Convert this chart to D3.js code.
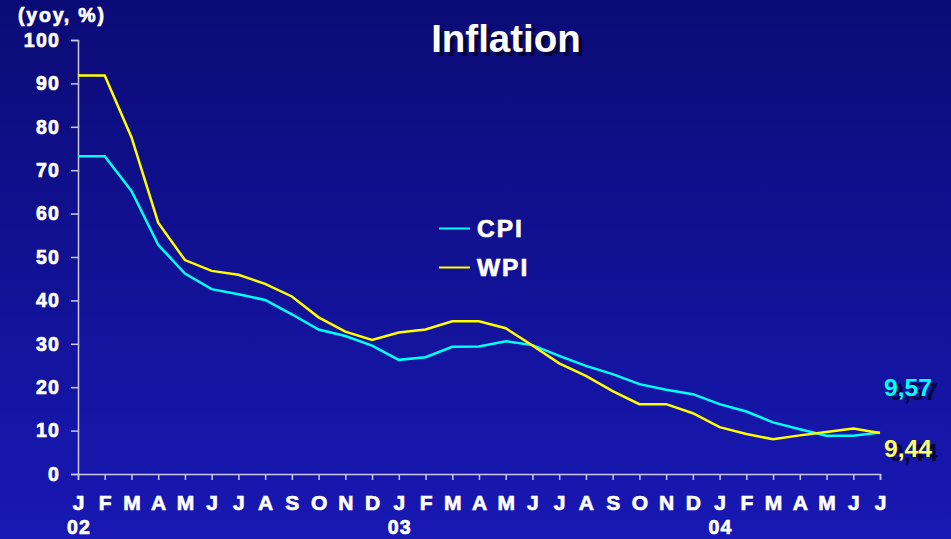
<!DOCTYPE html>
<html lang="en">
  <head>
    <meta charset="UTF-8" />
    <title>Inflation</title>
    <style>
      body { margin: 0; background: #10108c; }
      text { font-family: "Liberation Sans", Arial, sans-serif; font-weight: bold; }
      .heavy { stroke: white; stroke-width: 0.7px; }
    </style>
  </head>
  <body>
    <svg id="chart"></svg>
    <script src="https://cdnjs.cloudflare.com/ajax/libs/d3/7.4.4/d3.min.js"></script>
    <script>
      const months = ["J","F","M","A","M","J","J","A","S","O","N","D",
                      "J","F","M","A","M","J","J","A","S","O","N","D",
                      "J","F","M","A","M","J","J"];
      const years = [[0, "02"], [12, "03"], [24, "04"]];
      const cpi = [73.2, 73.2, 65.2, 52.8, 46.2, 42.6, 41.4, 40.1, 36.8, 33.3, 31.8, 29.6,
                   26.3, 26.9, 29.3, 29.4, 30.6, 29.7, 27.2, 24.9, 23.0, 20.7, 19.4, 18.4,
                   16.1, 14.4, 11.9, 10.3, 8.8, 8.8, 9.57];
      const wpi = [91.8, 91.8, 77.6, 57.9, 49.3, 46.8, 45.9, 43.8, 40.9, 36.1, 32.8, 30.9,
                   32.6, 33.3, 35.2, 35.2, 33.6, 29.6, 25.5, 22.6, 19.1, 16.1, 16.1, 14.0,
                   10.8, 9.2, 8.0, 8.9, 9.7, 10.5, 9.44];
      const yTicks = [0, 10, 20, 30, 40, 50, 60, 70, 80, 90, 100];

      const W = 951, H = 539;
      const svg = d3.select("#chart").attr("width", W).attr("height", H);

      const defs = svg.append("defs");
      const grad = defs.append("linearGradient").attr("id", "bg")
        .attr("x1", 0).attr("y1", 0).attr("x2", 0).attr("y2", 1);
      grad.append("stop").attr("offset", "0%").attr("stop-color", "#0b0b76");
      grad.append("stop").attr("offset", "100%").attr("stop-color", "#1818b4");
      svg.append("rect").attr("width", W).attr("height", H).attr("fill", "url(#bg)");

      const x = d3.scaleLinear().domain([0, months.length - 1]).range([78, 880]);
      const y = d3.scaleLinear().domain([0, 100]).range([474, 40]);
      const axisColor = "#c8c8e8";
      const font = "Liberation Sans, Arial, sans-serif";

      // y axis
      const yAxis = svg.append("g").attr("transform", "translate(78,0)")
        .call(d3.axisLeft(y).tickValues(yTicks).tickSize(7).tickPadding(11));
      yAxis.select(".domain").attr("stroke", axisColor).attr("stroke-width", 1.5);
      yAxis.selectAll(".tick line").attr("stroke", axisColor).attr("stroke-width", 1.5);
      yAxis.selectAll(".tick text").attr("fill", "white").attr("font-size", 19.5)
        .attr("letter-spacing", 1.2).attr("class", "heavy")
        .attr("font-family", font).attr("font-weight", "bold");

      // x axis
      const xAxis = svg.append("g").attr("transform", "translate(0,474)")
        .call(d3.axisBottom(x).tickValues(d3.range(months.length)).tickSize(6)
          .tickFormat((d) => months[d]));
      xAxis.select(".domain").attr("stroke", axisColor).attr("stroke-width", 1.5);
      xAxis.selectAll(".tick line").attr("stroke", axisColor).attr("stroke-width", 1.5);
      xAxis.selectAll(".tick text").attr("fill", "white").attr("font-size", 21)
        .attr("y", 36).attr("dy", 0).attr("class", "heavy")
        .attr("font-family", font).attr("font-weight", "bold");

      svg.selectAll(".year").data(years).enter().append("text")
        .attr("x", (d) => x(d[0]) + 1).attr("y", 534).attr("class", "heavy")
        .attr("text-anchor", "middle").attr("fill", "white").attr("font-size", 19.5)
        .attr("letter-spacing", 1.2)
        .text((d) => d[1]);

      svg.append("text").attr("x", 18).attr("y", 22).attr("fill", "white").attr("class", "heavy")
        .attr("font-size", 19.5).attr("letter-spacing", 1.8).text("(yoy, %)");

      // title with shadow
      [["#05053c", 4], ["white", 0]].forEach(([c, o]) => {
        svg.append("text").attr("x", 506 + o).attr("y", 52 + o)
          .attr("text-anchor", "middle").attr("fill", c).attr("font-size", 38.5).text("Inflation");
      });

      const line = d3.line().x((d, i) => x(i)).y((d) => y(d));
      svg.append("path").datum(cpi).attr("d", line).attr("fill", "none")
        .attr("stroke", "#00ffff").attr("stroke-width", 2.5);
      svg.append("path").datum(wpi).attr("d", line).attr("fill", "none")
        .attr("stroke", "#ffff00").attr("stroke-width", 2.5);

      // legend
      const legend = [["CPI", "#00ffff", 228.5], ["WPI", "#ffff00", 267.5]];
      legend.forEach(([name, c, ly]) => {
        svg.append("line").attr("x1", 439).attr("x2", 470).attr("y1", ly).attr("y2", ly)
          .attr("stroke", c).attr("stroke-width", 2);
        svg.append("text").attr("x", 477).attr("y", ly + 8.5).attr("fill", "white")
          .attr("class", "heavy")
          .attr("font-size", 24.5).attr("letter-spacing", 2).text(name);
      });

      // end labels
      const endLabels = [["9,57", "#00ffff", 396], ["9,44", "#ffff66", 456.5]];
      endLabels.forEach(([t, c, ly]) => {
        svg.append("text").attr("x", 890).attr("y", ly + 4).attr("fill", "#04043a")
          .attr("font-size", 24.7).text(t);
        svg.append("text").attr("x", 884).attr("y", ly).attr("fill", c)
          .attr("font-size", 24.7).text(t);
      });
    </script>
  </body>
</html>
